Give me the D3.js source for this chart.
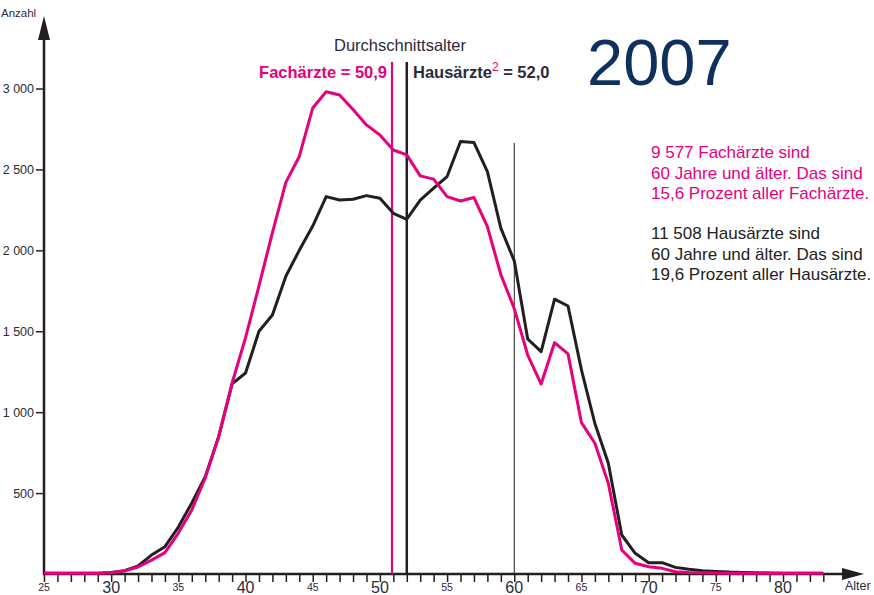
<!DOCTYPE html>
<html><head><meta charset="utf-8">
<script src="https://cdn.jsdelivr.net/npm/d3@7"></script>
<style>body{margin:0;background:#fff}svg{display:block;font-family:"Liberation Sans",Arial,sans-serif}</style>
</head><body><svg id="c" width="874" height="595"></svg>
<script>
const ages = d3.range(25, 84);
const fachaerzte = [5,5,5,5,5,8,20,43,86,132,253,396,593,849,1180,1460,1780,2110,2420,2580,2880,2980,2960,2870,2775,2713,2620,2590,2460,2440,2332,2305,2326,2146,1850,1640,1353,1174,1430,1360,935,808,560,148,66,45,35,14,10,8,6,5,5,5,5,5,5,5,5];
const hausaerzte = [5,5,5,5,5,10,20,50,117,169,290,439,601,849,1175,1242,1500,1600,1840,2000,2150,2332,2311,2316,2338,2322,2229,2192,2310,2384,2456,2672,2666,2486,2137,1935,1452,1374,1698,1656,1261,930,684,241,128,70,70,41,29,20,16,12,10,8,6,5,5,5,5];
const yTicks = [500,1000,1500,2000,2500,3000];
const xMajor = [30,40,50,60,70,80];
const xMinor = [25,35,45,55,65,75];
const meanFach = 50.9, meanHaus = 52.0;
const pink = "#e6007e", black = "#231f20", txt = "#2b2b3a";

const svg = d3.select("#c");
const x = d3.scaleLinear().domain([25, 80]).range([44, 783]);
const y = d3.scaleLinear().domain([0, 3000]).range([574, 88.5]);

// y axis
const ya = svg.append("g").attr("transform","translate(44,0)")
  .call(d3.axisLeft(y).tickValues(yTicks).tickSize(8).tickPadding(2)
  .tickFormat(d => d3.format(",")(d).replace(",", " ")));
ya.select(".domain").remove();
ya.selectAll("line").attr("stroke", black).attr("stroke-width", 1.5);
ya.selectAll("text").attr("font-size", 12.5).attr("fill", txt).attr("font-family","Liberation Sans, Arial");
svg.append("line").attr("x1",44).attr("x2",44).attr("y1",575).attr("y2",32).attr("stroke",black).attr("stroke-width",2.5);
svg.append("path").attr("d","M44,16 L38,40 L50,40 Z").attr("fill",black);
svg.append("text").attr("x",1).attr("y",17).attr("font-size",11.5).attr("fill",txt).text("Anzahl");

// x axis
const xa = svg.append("g").attr("transform","translate(0,574)")
  .call(d3.axisBottom(x).tickValues(d3.range(25,84)).tickSize(8).tickFormat(""));
xa.select(".domain").remove();
xa.selectAll("line").attr("stroke", black).attr("stroke-width", 1.5);
svg.append("line").attr("x1",43).attr("x2",845).attr("y1",574).attr("y2",574).attr("stroke",black).attr("stroke-width",2.5);
svg.append("path").attr("d","M864,574 L842,568 L842,580 Z").attr("fill",black);
svg.append("g").selectAll("text").data(xMajor).join("text")
  .attr("x", d => x(d)).attr("y", 593).attr("text-anchor","middle").attr("font-size",16).attr("fill",txt).text(d => d);
svg.append("g").selectAll("text").data(xMinor).join("text")
  .attr("x", d => x(d)).attr("y", 591).attr("text-anchor","middle").attr("font-size",10.5).attr("fill",txt).text(d => d);
svg.append("text").attr("x",845).attr("y",590).attr("font-size",12.5).attr("fill",txt).text("Alter");

// vertical lines
svg.append("line").attr("x1",x(60)).attr("x2",x(60)).attr("y1",143).attr("y2",574).attr("stroke",black).attr("stroke-width",1);
svg.append("line").attr("x1",x(meanFach)).attr("x2",x(meanFach)).attr("y1",62).attr("y2",574).attr("stroke",pink).attr("stroke-width",2.2);
svg.append("line").attr("x1",x(meanHaus)).attr("x2",x(meanHaus)).attr("y1",62).attr("y2",574).attr("stroke",black).attr("stroke-width",2.5);

// lines
const line = d3.line().x((d,i) => x(ages[i])).y(d => y(d));
svg.append("path").attr("d", line(hausaerzte)).attr("fill","none").attr("stroke",black).attr("stroke-width",3).attr("stroke-linejoin","round");
svg.append("path").attr("d", line(fachaerzte)).attr("fill","none").attr("stroke",pink).attr("stroke-width",3).attr("stroke-linejoin","round");

// labels
svg.append("text").attr("x",400).attr("y",51).attr("text-anchor","middle").attr("font-size",16.5).attr("fill",txt).text("Durchschnittsalter");
svg.append("text").attr("x",387).attr("y",78).attr("text-anchor","end").attr("font-size",16.5).attr("font-weight","bold").attr("fill",pink).text("Fachärzte = 50,9");
const h = svg.append("text").attr("x",413).attr("y",78).attr("font-size",16.5).attr("font-weight","bold").attr("fill",txt);
h.append("tspan").text("Hausärzte");
h.append("tspan").attr("dy",-7).attr("font-size",12).attr("font-weight","normal").attr("fill",pink).text("2");
h.append("tspan").attr("dy",7).text(" = 52,0");

svg.append("text").attr("x",587).attr("y",85).attr("font-size",65).attr("fill","#0f2f5e").attr("font-family","Liberation Sans, Arial").text("2007");

const pinkLines = ["9 577 Fachärzte sind","60 Jahre und älter. Das sind","15,6 Prozent aller Fachärzte."];
const blackLines = ["11 508 Hausärzte sind","60 Jahre und älter. Das sind","19,6 Prozent aller Hausärzte."];
svg.append("g").selectAll("text").data(pinkLines).join("text")
  .attr("x",651).attr("y",(d,i)=>158+i*20.7).attr("font-size",17).attr("fill",pink).text(d=>d);
svg.append("g").selectAll("text").data(blackLines).join("text")
  .attr("x",651).attr("y",(d,i)=>239+i*20.7).attr("font-size",17).attr("fill","#222").text(d=>d);
</script></body></html>
